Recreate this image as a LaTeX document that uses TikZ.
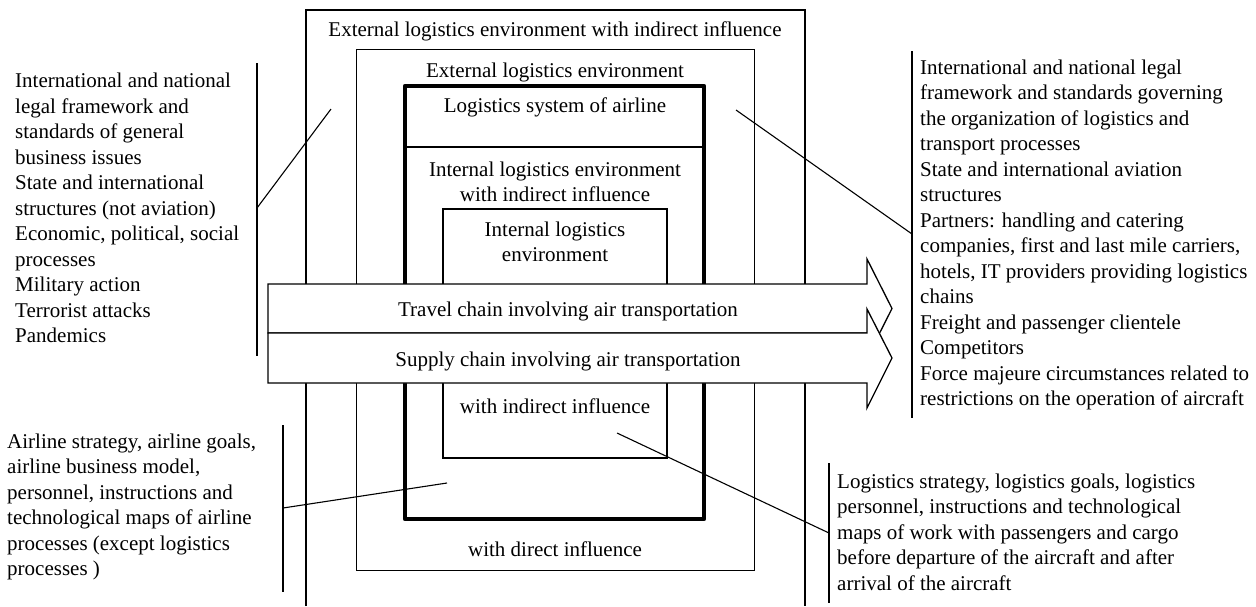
\documentclass[tikz,border=0pt]{standalone}
\usepackage{fontspec}
\setmainfont{Liberation Serif}
\newcommand\mystrut{\rule{0pt}{18pt}}
\begin{document}
\begin{tikzpicture}[x=1pt,y=-1pt,
  every node/.style={font=\fontsize{21}{25.5}\selectfont, inner sep=0pt},
  frame/.style={draw, line width=1.4pt},
  thickframe/.style={draw, line width=4.6pt, line join=round},
  lbl/.style={anchor=base},
  mlbl/.style={anchor=north, align=center, font=\fontsize{21}{24.5}\selectfont},
  side/.style={anchor=north west, align=left},
  link/.style={line width=1.1pt},
  bar/.style={line width=1.2pt},
  chain/.style={draw, fill=white, line width=1.3pt, line join=miter}]
\useasboundingbox (0,0) rectangle (1256,606);

% outer frame (open at the bottom)
\coordinate (oBL) at (306,606);
\coordinate (oTR) at (805,10);
\coordinate (oBR) at (805,606);
\draw[line width=1.4pt] (oBL) |- (oTR) -- (oBR);
\node[lbl] (tOuter) at (555,36) {External logistics environment with indirect influence};

% external logistics environment
\node[frame, minimum width=398pt, minimum height=521pt] (extenv) at (555.5,310) {};
\node[lbl] (tExt) at (555,77) {External logistics environment};
\node[lbl] (tDirect) at (555,556) {with direct influence};

% logistics system of airline (thick)
\node[thickframe, minimum width=299pt, minimum height=433pt] (sys) at (554.5,302.5) {};
\coordinate (divL) at (405,147);
\coordinate (divR) at (704,147);
\draw[line width=1.3pt] (divL) -- (divR);
\node[lbl] (tSys) at (555,112) {Logistics system of airline};
\node[mlbl] (tIntInd) at (555,158.5) {\mystrut Internal logistics environment\\with indirect influence};

% internal logistics environment
\node[frame, minimum width=224pt, minimum height=249pt] (intenv) at (555,333.5) {};
\node[mlbl] (tInt) at (555,218.5) {\mystrut Internal logistics\\environment};
\node[lbl] (tIndirect) at (555,413) {with indirect influence};

% chains (arrows)
\draw[chain] (268,284) -- (867,284) -- (867,259) -- (892,308.5) -- (867,358) -- (867,333) -- (268,333) -- cycle;
\node[lbl] (tTravel) at (568,316.5) {Travel chain involving air transportation};
\draw[chain] (268,333) -- (867,333) -- (867,309) -- (892,358) -- (867,408) -- (867,383) -- (268,383) -- cycle;
\node[lbl] (tSupply) at (568,366) {Supply chain involving air transportation};

% left upper block
\node[side] (left1) at (15,69.5) {\mystrut International and national\\legal framework and\\standards of general\\business issues\\State and international\\structures (not aviation)\\Economic, political, social\\processes\\Military action\\Terrorist attacks\\Pandemics};
\coordinate (l1top) at (257,63);
\coordinate (l1bot) at (257,356);
\draw[bar] (l1top) -- (l1bot);
\coordinate (l1a) at (257,208);
\coordinate (l1b) at (331,109);
\draw[link] (l1a) -- (l1b);

% right upper block
\node[side] (right1) at (920,56) {\mystrut International and national legal\\framework and standards governing\\the organization of logistics and\\transport processes\\State and international aviation\\structures\\Partners: handling and catering\\companies, first and last mile carriers,\\hotels, IT providers providing logistics\\chains\\Freight and passenger clientele\\Competitors\\Force majeure circumstances related to\\restrictions on the operation of aircraft};
\coordinate (r1top) at (912,51);
\coordinate (r1bot) at (912,418);
\draw[bar] (r1top) -- (r1bot);
\coordinate (r1a) at (912,234);
\coordinate (r1b) at (736,110);
\draw[link] (r1a) -- (r1b);

% left lower block
\node[side] (left2) at (7,430) {\mystrut Airline strategy, airline goals,\\airline business model,\\personnel, instructions and\\technological maps of airline\\processes (except logistics\\processes )};
\coordinate (l2top) at (283,425);
\coordinate (l2bot) at (283,592);
\draw[bar] (l2top) -- (l2bot);
\coordinate (l2a) at (283,508);
\coordinate (l2b) at (447,483);
\draw[link] (l2a) -- (l2b);

% right lower block
\node[side] (right2) at (837,470) {\mystrut Logistics strategy, logistics goals, logistics\\personnel, instructions and technological\\maps of work with passengers and cargo\\before departure of the aircraft and after\\arrival of the aircraft};
\coordinate (r2top) at (829,463);
\coordinate (r2bot) at (829,603);
\draw[bar] (r2top) -- (r2bot);
\coordinate (r2a) at (829,533);
\coordinate (r2b) at (617,433);
\draw[link] (r2a) -- (r2b);
\end{tikzpicture}
\end{document}
